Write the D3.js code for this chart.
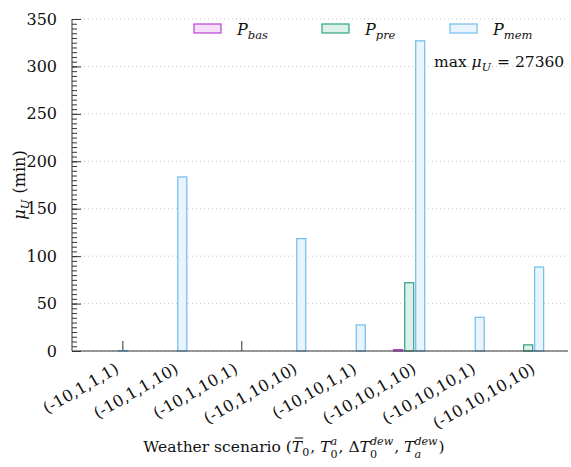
<!DOCTYPE html>
<html>
<head>
<meta charset="utf-8">
<script src="https://cdn.jsdelivr.net/npm/d3@7/dist/d3.min.js"></script>
<style>
  html, body { margin: 0; padding: 0; background: #fff; }
</style>
</head>
<body>
<svg id="chart" width="571" height="467"></svg>
<script>
(function () {
  'use strict';

  // ─── Data ─────────────────────────────────────────

  const categories = [
    '(-10,1,1,1)', '(-10,1,1,10)', '(-10,1,10,1)', '(-10,1,10,10)',
    '(-10,10,1,1)', '(-10,10,1,10)', '(-10,10,10,1)', '(-10,10,10,10)'
  ];
  const seriesKeys = ['bas', 'pre', 'mem'];
  const pBas = [0, 0, 0, 0, 0, 1.5, 0, 0];
  const pPre = [0, 0, 0, 0, 0, 72, 0, 6.5];
  const pMem = [0.5, 183.5, 0, 118.5, 27.5, 327, 35.5, 88.5];
  const yTickValues = [0, 50, 100, 150, 200, 250, 300, 350];
  const maxLabel = '27360';

  const values = { bas: pBas, pre: pPre, mem: pMem };
  const colors = {
    bas: { stroke: '#bb40d2', fill: '#f5def9' },
    pre: { stroke: '#2ea486', fill: '#ddf0ea' },
    mem: { stroke: '#6fbcee', fill: '#eaf4fd' }
  };
  const FONT = 'DejaVu Serif';
  const FS = 16;      // main font size
  const FS_SMALL = 11.5;

  // ─── Layout ───────────────────────────────────────

  const left = 72, right = 568, top = 19, bottom = 351;
  const svg = d3.select('#chart');

  const x = d3.scalePoint().domain(categories).range([left, right]).padding(0.67);
  const inner = d3.scaleBand().domain(seriesKeys).range([-16.5, 16.5]);
  const y = d3.scaleLinear().domain([0, 350]).range([bottom, top]);

  function txt(sel) {
    return sel.attr('font-family', FONT).style('font-family', FONT)
      .style('white-space', 'pre').attr('fill', '#111');
  }

  // ─── Gridlines ────────────────────────────────────

  svg.append('g').attr('class', 'gridlines')
    .selectAll('line').data(yTickValues).enter().append('line')
    .attr('x1', left).attr('x2', right)
    .attr('y1', d => y(d)).attr('y2', d => y(d))
    .attr('stroke', '#c8c8c8')
    .attr('stroke-width', 1)
    .attr('stroke-dasharray', '1,3');

  // x ticks (under the bars, at the P_mem slot)
  svg.append('g').attr('class', 'xticks')
    .selectAll('line').data(categories).enter().append('line')
    .attr('x1', d => x(d) + inner('mem') + inner.bandwidth() / 2)
    .attr('x2', d => x(d) + inner('mem') + inner.bandwidth() / 2)
    .attr('y1', bottom).attr('y2', bottom - 10)
    .attr('stroke', '#333').attr('stroke-width', 1);

  // ─── Bars ─────────────────────────────────────────

  const barW = inner.bandwidth() - 2;
  seriesKeys.forEach(function (key) {
    svg.append('g').attr('class', 'bars bars-' + key)
      .selectAll('rect').data(categories).enter().append('rect')
      .attr('x', d => x(d) + inner(key) + 1)
      .attr('width', barW)
      .attr('y', (d, i) => y(values[key][i]))
      .attr('height', (d, i) => bottom - y(values[key][i]))
      .attr('fill', colors[key].fill)
      .attr('stroke', colors[key].stroke)
      .attr('stroke-width', 1.2);
  });

  // ─── Y axis ───────────────────────────────────────

  const yMinor = svg.append('g')
    .attr('transform', `translate(${left},0)`)
    .call(d3.axisLeft(y).tickValues(d3.range(0, 351, 5)).tickSize(-5).tickFormat(''));
  yMinor.select('.domain').remove();
  yMinor.selectAll('.tick line').attr('stroke', '#333');

  const yAxis = svg.append('g')
    .attr('transform', `translate(${left},0)`)
    .call(d3.axisLeft(y).tickValues(yTickValues).tickSize(-9).tickPadding(15));
  yAxis.attr('font-family', FONT).attr('font-size', FS);
  yAxis.select('.domain').attr('stroke', '#333').attr('d', `M0,${top}V${bottom}`);
  yAxis.selectAll('.tick line').attr('stroke', '#333');
  txt(yAxis.selectAll('.tick text')).style('font-size', FS + 'px');

  // x axis line
  svg.append('line')
    .attr('x1', left).attr('x2', right)
    .attr('y1', bottom).attr('y2', bottom)
    .attr('stroke', '#333').attr('stroke-width', 1);

  // ─── X tick labels ────────────────────────────────

  txt(svg.append('g').attr('class', 'xlabels')
    .selectAll('text').data(categories).enter().append('text'))
    .attr('transform', d => `translate(${x(d) + 8},${bottom + 21}) rotate(-30)`)
    .attr('text-anchor', 'end')
    .style('font-size', FS + 'px')
    .text(d => d);

  // ─── Math-ish text helper ─────────────────────────
  // pieces: { t, it, sub, sup } laid out left to right, sub/sup stacked

  function mathText(g, x0, y0, pieces, anchor, fs) {
    fs = fs || FS;
    const fsSmall = FS_SMALL * fs / FS;
    let cx = 0;
    pieces.forEach(function (p) {
      const base = txt(g.append('text')).attr('x', cx).attr('y', 0)
        .style('font-size', fs + 'px')
        .style('font-style', p.it ? 'italic' : 'normal')
        .text(p.t);
      const w = base.node().getComputedTextLength();
      if (p.bar) {
        g.append('line').attr('x1', cx + 3).attr('x2', cx + w + 1)
          .attr('y1', -14).attr('y2', -14).attr('stroke', '#111').attr('stroke-width', 1);
      }
      cx += w;
      let w2 = 0;
      if (p.sup) {
        const s = txt(g.append('text')).attr('x', cx).attr('y', -7)
          .style('font-size', fsSmall + 'px').style('font-style', 'italic').text(p.sup);
        w2 = Math.max(w2, s.node().getComputedTextLength());
      }
      if (p.sub) {
        const s = txt(g.append('text')).attr('x', cx).attr('y', p.sup ? 6 : 4)
          .style('font-size', fsSmall + 'px').style('font-style', p.subIt ? 'italic' : 'normal').text(p.sub);
        w2 = Math.max(w2, s.node().getComputedTextLength());
      }
      cx += w2 + (w2 ? 1 : 0);
    });
    let dx = 0;
    if (anchor === 'middle') dx = -cx / 2;
    g.attr('transform', `translate(${x0 + dx},${y0})`);
    return cx;
  }

  // ─── Axis titles ──────────────────────────────────

  const ytG = svg.append('g');
  const ytInner = ytG.append('g');
  mathText(ytInner, 0, 0, [
    { t: 'μ', it: true, sub: 'U', subIt: true },
    { t: ' (min)' }
  ], 'middle');
  ytG.attr('transform', `translate(25,${(top + bottom) / 2}) rotate(-90)`);

  mathText(svg.append('g'), 294, 452, [
    { t: 'Weather scenario (' },
    { t: 'T', it: true, bar: true, sub: '0' },
    { t: ', ' },
    { t: 'T', it: true, sub: '0', sup: 'a' },
    { t: ', Δ' },
    { t: 'T', it: true, sub: '0', sup: 'dew' },
    { t: ', ' },
    { t: 'T', it: true, sub: 'a', subIt: true, sup: 'dew' },
    { t: ')' }
  ], 'middle', 15.5);

  // ─── Legend ───────────────────────────────────────

  const legend = svg.append('g').attr('class', 'legend');
  seriesKeys.forEach(function (key, i) {
    const lx = 194 + i * 128;
    legend.append('rect')
      .attr('x', lx).attr('y', 24).attr('width', 27).attr('height', 9)
      .attr('fill', colors[key].fill)
      .attr('stroke', colors[key].stroke)
      .attr('stroke-width', 1.2);
    mathText(legend.append('g'), lx + 43, 35, [
      { t: 'P', it: true, sub: key, subIt: true }
    ]);
  });

  // ─── Annotation ───────────────────────────────────

  mathText(svg.append('g'), 434, 67, [
    { t: 'max ' },
    { t: 'μ', it: true, sub: 'U', subIt: true },
    { t: ' = ' + maxLabel }
  ], null, 15.5);
})();
</script>
</body>
</html>
